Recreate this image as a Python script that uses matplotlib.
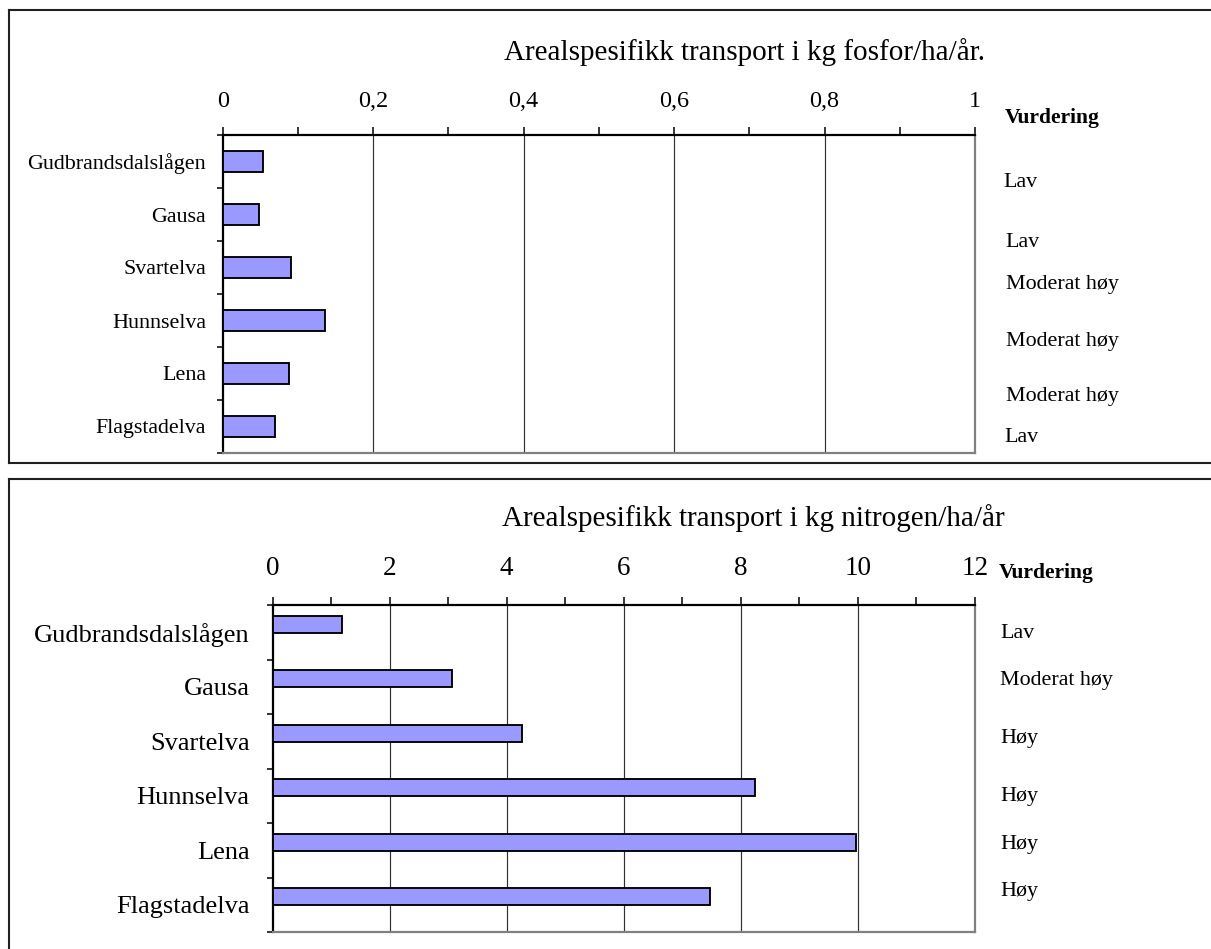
import matplotlib
matplotlib.use("Agg")
import matplotlib.pyplot as plt
from matplotlib.lines import Line2D
from matplotlib.ticker import FixedLocator, FuncFormatter
import numpy as np

# --- data ---------------------------------------------------------------
rivers = ["Gudbrandsdalslågen", "Gausa", "Svartelva", "Hunnselva", "Lena", "Flagstadelva"]
phosphorus = [0.053, 0.048, 0.091, 0.136, 0.088, 0.070]   # kg P/ha/år
nitrogen = [1.18, 3.07, 4.26, 8.24, 9.97, 7.47]          # kg N/ha/år
rating_p = ["Lav", "Lav", "Moderat høy", "Moderat høy", "Moderat høy", "Lav"]
rating_n = ["Lav", "Moderat høy", "Høy", "Høy", "Høy", "Høy"]
title_p = "Arealspesifikk transport i kg fosfor/ha/år."
title_n = "Arealspesifikk transport i kg nitrogen/ha/år"
rating_header = "Vurdering"

# --- layout helpers (pixel -> figure fraction) ---------------------------
W, H = 1211, 949
def fx(px):
    return px / W
def fy(py):
    return 1 - py / H

plt.rcParams["font.family"] = ["Liberation Serif", "DejaVu Serif"]
BAR_COLOR = "#9999ff"

fig = plt.figure(figsize=(W / 100, H / 100), dpi=100)
fig.patch.set_facecolor("white")

# panel frames
frame_kw = dict(color="#202020", lw=1.5, transform=fig.transFigure)
for seg in [((9, 10), (W, 10)), ((9, 10), (9, 463)), ((9, 463), (W, 463)),
            ((9, 479), (W, 479)), ((9, 479), (9, H))]:
    (x0, y0), (x1, y1) = seg
    fig.add_artist(Line2D([fx(x0), fx(x1)], [fy(y0), fy(y1)], **frame_kw))


def comma_fmt(v, _pos):
    s = f"{v:g}"
    return s.replace(".", ",")


def style_axes(ax, values, xmax, major, minor, bar_h, bar_shift,
               tick_fs, label_fs, tick_pad, label_pad):
    n = len(rivers)
    pos = np.arange(n) + bar_shift
    ax.barh(pos, values, height=bar_h, color=BAR_COLOR,
            edgecolor="black", linewidth=1.35, zorder=3)
    ax.set_xlim(0, xmax)
    ax.set_ylim(n - 0.5, -0.5)

    # value axis on top
    ax.xaxis.tick_top()
    ax.xaxis.set_major_locator(FixedLocator(np.arange(0, xmax + 1e-9, major)))
    ax.xaxis.set_minor_locator(FixedLocator(np.arange(minor, xmax, major)))
    ax.xaxis.set_major_formatter(FuncFormatter(comma_fmt))
    ax.tick_params(axis="x", which="both", direction="out", length=5.8,
                   width=1.1, color="black", top=True, bottom=False)
    ax.tick_params(axis="x", which="major", labelsize=tick_fs, pad=tick_pad)

    # vertical gridlines at labelled values
    for g in np.arange(major, xmax - 1e-9, major):
        ax.axvline(g, color="#303030", lw=0.85, zorder=1)

    # category axis: ticks at band borders, labels at band centres
    ax.yaxis.set_major_locator(FixedLocator(np.arange(-0.5, n, 1.0)))
    ax.yaxis.set_major_formatter(FuncFormatter(lambda v, p: ""))
    ax.yaxis.set_minor_locator(FixedLocator(np.arange(n)))
    ax.set_yticklabels(rivers, minor=True)
    ax.tick_params(axis="y", which="major", direction="out", length=4.3,
                   width=1.1, color="black")
    ax.tick_params(axis="y", which="minor", length=0, labelsize=label_fs,
                   pad=label_pad)

    for side, col in [("top", "black"), ("left", "black"),
                      ("right", "#808080"), ("bottom", "#808080")]:
        ax.spines[side].set_color(col)
        ax.spines[side].set_linewidth(1.6)
    ax.set_facecolor("white")


# --- phosphorus panel ----------------------------------------------------
ax1 = fig.add_axes([fx(222.7), fy(453), fx(975) - fx(222.7), fy(135) - fy(453)])
style_axes(ax1, phosphorus, 1.0, 0.2, 0.1, 0.4, 0.0,
           tick_fs=17.5, label_fs=15.8, tick_pad=10.5, label_pad=12)

fig.text(fx(745), fy(60), title_p, fontsize=21, ha="center", va="baseline")
fig.text(fx(1005), fy(122.7), rating_header, fontsize=15.5, fontweight="bold",
         ha="left", va="baseline")
rating_p_x = [1003, 1005.5, 1005.5, 1005.5, 1005.5, 1004]
rating_p_y = [186.7, 246.7, 289.3, 345.7, 400.7, 441.7]
for txt, xp, yp in zip(rating_p, rating_p_x, rating_p_y):
    fig.text(fx(xp), fy(yp), txt, fontsize=15.8, ha="left", va="baseline")

# --- nitrogen panel ------------------------------------------------------
ax2 = fig.add_axes([fx(272.5), fy(932), fx(975) - fx(272.5), fy(605) - fy(932)])
style_axes(ax2, nitrogen, 12, 2, 1, 0.31, -0.15,
           tick_fs=19.5, label_fs=19, tick_pad=11.5, label_pad=16.5)

fig.text(fx(753), fy(526), title_n, fontsize=21, ha="center", va="baseline")
fig.text(fx(999), fy(578), rating_header, fontsize=15.5, fontweight="bold",
         ha="left", va="baseline")
rating_n_y = [638.3, 685, 742.7, 800.7, 849, 895.7]
for txt, yp in zip(rating_n, rating_n_y):
    fig.text(fx(1000), fy(yp), txt, fontsize=15.8, ha="left", va="baseline")

fig.savefig("out.png", dpi=100, facecolor="white")
